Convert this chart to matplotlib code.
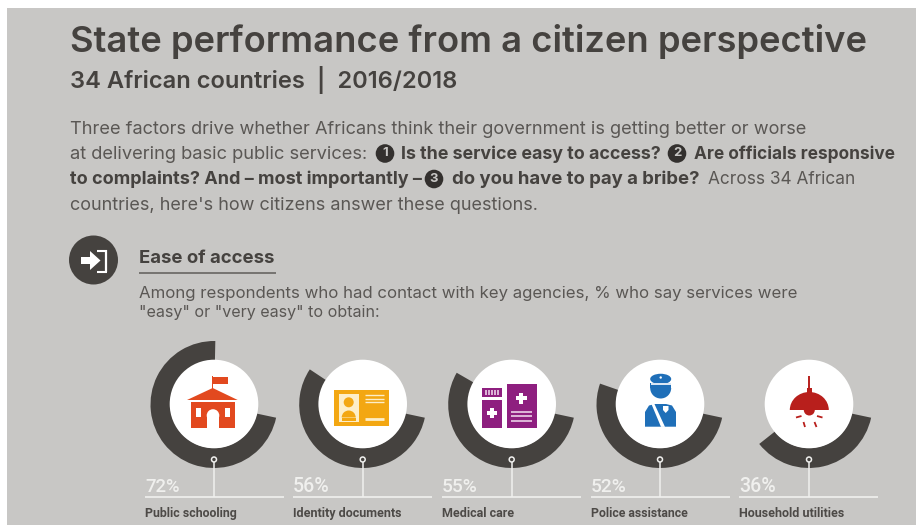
import matplotlib
matplotlib.use("Agg")
import matplotlib.pyplot as plt
from matplotlib import font_manager as fm
from matplotlib.patches import Wedge, Circle, Rectangle, Polygon, Ellipse

# ---- data ----
categories = ["Public schooling", "Identity documents", "Medical care",
              "Police assistance", "Household utilities"]
easy_pct = [72, 56, 55, 52, 36]
label_widths = [92, 109, 72, 97, 106]
pct_widths = [35, 37, 36, 36, 37]

BG = "#c8c7c5"
DARK = "#45423f"
BODY = "#5a5754"
OFFWHITE = "#f0f0ee"

W, H = 916, 525
fig = plt.figure(figsize=(W / 100, H / 100), dpi=100, facecolor="white")
ax = fig.add_axes([0, 0, 1, 1])
ax.set_xlim(0, W)
ax.set_ylim(0, H)
ax.axis("off")
renderer = fig.canvas.get_renderer()

avail = {f.name for f in fm.fontManager.ttflist}
NARROW = "Liberation Sans Narrow" if "Liberation Sans Narrow" in avail else "Roboto"
GEO = "Inter"


def Y(y):
    return H - y


def fit(x, y, s, width, family=GEO, weight="normal", color=BODY, size=12):
    t = ax.text(x, Y(y), s, family=family, weight=weight, color=color,
                fontsize=size, ha="left", va="baseline")
    w = t.get_window_extent(renderer).width
    t.set_fontsize(size * width / w)
    return t


def rect(x0, y0, x1, y1, c, z=5):
    ax.add_patch(Rectangle((x0, Y(y1)), x1 - x0, y1 - y0, fc=c, ec="none", zorder=z))


def poly(pts, c, z=5):
    ax.add_patch(Polygon([(a, Y(b)) for a, b in pts], closed=True, fc=c, ec="none", zorder=z))


def seg(x0, y0, x1, y1, c, lw, z=5):
    ax.plot([x0, x1], [Y(y0), Y(y1)], color=c, lw=lw, solid_capstyle="butt", zorder=z)


def cross(cx, cy, a, b, c, z=7):
    rect(cx - a, cy - b, cx + a, cy + b, c, z)
    rect(cx - b, cy - a, cx + b, cy + a, c, z)


# panel
rect(7, 8, W, H, BG, z=0)

# header
fit(70, 52, "State performance from a citizen perspective", 794, weight="semibold", color=DARK, size=30)
fit(70, 88.5, "34 African countries  |  2016/2018", 387, weight="semibold", color=DARK, size=18)

# intro paragraph
fit(70, 134, "Three factors drive whether Africans think their government is getting better or worse", 737)
fit(70, 159, "at delivering basic public services:", 299)
fit(401, 159, "Is the service easy to access?", 259.5, weight="bold", color=DARK)
fit(694, 159, "Are officials responsive", 200, weight="bold", color=DARK)
fit(70, 184.5, "to complaints? And – most importantly –", 350, weight="bold", color=DARK)
fit(452, 184.5, "do you have to pay a bribe?", 247, weight="bold", color=DARK)
fit(708, 184.5, "Across 34 African", 147)
fit(70, 209.5, "countries, here's how citizens answer these questions.", 467)

for n, cx, cy in [("1", 385, 153.5), ("2", 677, 153.5), ("3", 434, 179)]:
    ax.add_patch(Circle((cx, Y(cy)), 9.3, fc="#33302e", ec="none", zorder=5))
    ax.text(cx, Y(cy), n, color=BG, fontsize=9.5, weight="bold", family=GEO,
            ha="center", va="center", zorder=6)

# section header
ax.add_patch(Circle((93.5, Y(260)), 24.5, fc=DARK, ec="none", zorder=5))
poly([(81, 257), (90, 257), (90, 251), (100.5, 260.5), (90, 270), (90, 264), (81, 264)], "white", 6)
seg(97, 250.5, 107, 250.5, "white", 1.5, 6)
seg(106.3, 250, 106.3, 272, "white", 1.6, 6)
seg(97, 271.5, 107, 271.5, "white", 1.5, 6)
fit(139, 262.7, "Ease of access", 135, weight="bold", color=DARK, size=14)
seg(139, 273.3, 275.5, 273.3, "#5f5c59", 1.1)
fit(139, 298.3, "Among respondents who had contact with key agencies, % who say services were", 658)
fit(139, 316.7, '"easy" or "very easy" to obtain:', 240)

# donuts
centres_x = [214, 362.7, 511.7, 660, 809]
rule_x = [145, 293, 442, 591, 739]
END_ANGLE = -12
CY = 404.5
for cat, v, cx, rx, lw_, pw in zip(categories, easy_pct, centres_x, rule_x, label_widths, pct_widths):
    ax.add_patch(Wedge((cx, Y(CY)), 63.5, END_ANGLE - v * 3.6, END_ANGLE, width=20,
                       fc=DARK, ec="none", zorder=2))
    ax.add_patch(Circle((cx, Y(404)), 44.3, fc="white", ec="none", zorder=3))
    seg(cx, 462, cx, 497, OFFWHITE, 1.1, z=4)
    seg(rx, 497, rx + 139, 497, OFFWHITE, 1.2, z=4)
    ax.add_patch(Circle((cx, Y(459.5)), 2.5, fc=DARK, ec=OFFWHITE, lw=1.1, zorder=5))
    fit(rx, 492, f"{v}%", pw, family=NARROW, weight="medium", color=OFFWHITE, size=16)
    fit(rx, 517, cat, lw_, family=NARROW, weight="bold", color="#4d4a47", size=12)

# school icon
C = "#e2491f"
rect(211.8, 376, 213, 389, C)
rect(213, 376.7, 228, 384, C)
poly([(212.7, 388), (237.7, 400), (187, 400)], C)
rect(190.7, 402, 234.7, 428.3, C)
rect(206.7, 415, 219.3, 428.5, "white", 6)
ax.add_patch(Circle((213, Y(415.5)), 6.3, fc="white", ec="none", zorder=6))
rect(195.7, 408, 200.7, 416.7, "white", 6)
rect(225, 408, 230, 416.7, "white", 6)

# ID icon
C = "#f3a712"
P = "#fdeec8"
rect(334.3, 390, 388.7, 425.7, C)
rect(338.7, 394, 358.7, 422.3, P, 6)
ax.add_patch(Circle((348.7, Y(402.3)), 5, fc=C, ec="none", zorder=7))
ax.add_patch(Wedge((348.7, Y(417.5)), 7, 0, 180, fc=C, ec="none", zorder=7))
rect(341.7, 417.5, 355.7, 420.5, C, 7)
for yy in (395, 398.7, 402.3):
    seg(365, yy, 384, yy, P, 1.0, 6)
seg(365, 419, 384, 419, P, 2.0, 6)

# medical icon
C = "#8e1f7f"
P = "#f3dff0"
rect(482.3, 388.3, 502.3, 396.7, C)
for xx in (486, 489, 492, 495, 498):
    seg(xx, 390, xx, 395, P, 1.1, 6)
rect(482.3, 400, 502.3, 427.7, C)
cross(491.7, 413.3, 5, 2, "white")
rect(506.7, 384.3, 536.7, 427.7, C)
cross(521, 398, 5.5, 2.2, "white")
for yy in (411.7, 416, 420.7):
    seg(511.3, yy, 532, yy, P, 1.1, 6)

# police icon
C = "#1f6fb8"
ax.add_patch(Wedge((660.7, Y(388)), 10.5, 180, 360, fc=C, ec="none", zorder=5))
rect(650.2, 383, 671.2, 388, C)
ax.add_patch(Ellipse((660.7, Y(379)), 21, 10.5, fc=C, ec="none", zorder=6))
seg(651, 384.3, 670.5, 384.3, "white", 1.2, 7)
ax.add_patch(Circle((660.7, Y(377.5)), 1.2, fc="white", ec="none", zorder=7))
poly([(645, 426.7), (645, 412), (649, 405.5), (655, 404), (666, 404), (672, 405.5),
      (676, 412), (676, 426.7)], C)
poly([(651, 403), (654, 403), (665, 426.9), (661, 426.9)], "white", 6)
poly([(663, 406), (668.5, 406), (668.5, 410), (665.7, 413), (663, 410)], "white", 6)

# lamp icon
C = "#b81f1c"
seg(809.3, 376, 809.3, 392, C, 1.4)
rect(807, 388, 811.6, 395, C)
ax.add_patch(Ellipse((809.3, Y(410)), 39, 36, fc=C, ec="none", zorder=5))
rect(788, 410, 830, 430, "white", 6)
ax.add_patch(Wedge((809.3, Y(410)), 5.5, 180, 360, fc=C, ec="none", zorder=7))
for a, b, c, d in [(796, 417.5, 801.5, 416), (803.5, 422, 805, 427),
                   (814.5, 422, 816.5, 427), (817, 416, 822.5, 417.5)]:
    seg(a, b, c, d, C, 1.3, 7)

fig.savefig("out.png", dpi=100, facecolor="white")
